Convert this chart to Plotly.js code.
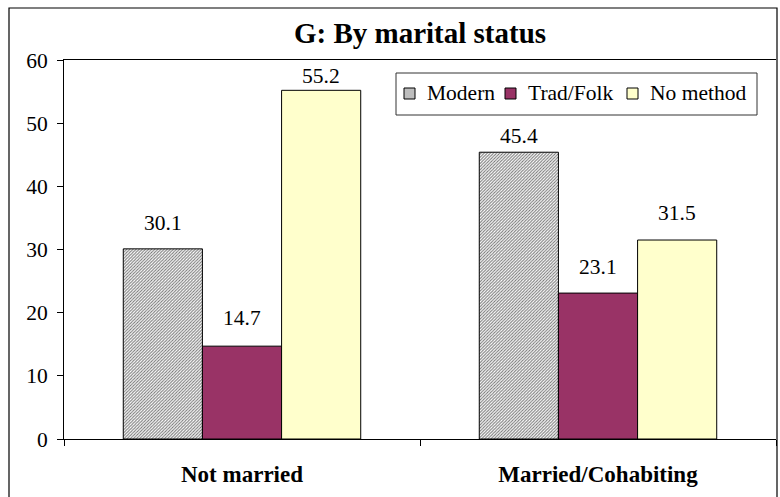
<!DOCTYPE html>
<html>
<head>
<meta charset="utf-8">
<script src="https://cdn.plot.ly/plotly-3.0.1.min.js"></script>
<style>html,body{margin:0;padding:0;background:#fff;}#chart{width:780px;height:497px;}</style>
</head>
<body>
<div id="chart"></div>
<script>
const categories = ["Not married", "Married/Cohabiting"];
const seriesNames = ["Modern", "Trad/Folk", "No method"];
const modern = [30.1, 45.4];
const tradFolk = [14.7, 23.1];
const noMethod = [55.2, 31.5];
const yTicks = [0, 10, 20, 30, 40, 50, 60];

// label styling: extra pixel lift above bar top (per series, per category)
const labelLift = [[12, 2], [14, 12], [0, 13]];

const font = "Liberation Serif, Times New Roman, serif";
const values = [modern, tradFolk, noMethod];
const fills = ["#ffffff", "#993366", "#ffffcc"];
const swatchFills = ["#bdbdbd", "#993366", "#ffffcc"];
const bargap = 0.333;
const barW = (1 - bargap) / values.length;

// plot geometry in pixels (for legend box placement)
const M = {l: 64, r: 4, t: 60, b: 58};
const PW = 780 - M.l - M.r, PH = 497 - M.t - M.b;
const px = x => (x - M.l) / PW;
const py = y => (497 - M.b - y) / PH;

const traces = values.map((v, i) => {
  const marker = {color: fills[i], line: {color: "#000", width: 1}};
  if (i === 0) {
    marker.pattern = {shape: "/", fgcolor: "#7a7a7a", bgcolor: "#ffffff", size: 2.2, solidity: 0.45};
  }
  return {type: "bar", name: seriesNames[i], x: categories, y: v, marker: marker, showlegend: false};
});

const annotations = [];
values.forEach((v, j) => {
  v.forEach((val, i) => {
    annotations.push({
      x: i + (j - (values.length - 1) / 2) * barW, y: val,
      xref: "x", yref: "y", text: val.toFixed(1), showarrow: false,
      xanchor: "center", yanchor: "bottom", yshift: labelLift[j][i],
      font: {family: font, size: 21.5, color: "#000"}
    });
  });
});

// manual legend (box, swatches, labels)
const legendLeft = 396, legendRight = 757, legendTop = 73, legendBottom = 115;
const swatchLeft = [404, 505, 627];
const shapes = [
  {type: "rect", xref: "paper", yref: "paper",
   x0: -55 / PW, x1: 713 / PW, y0: -0.2, y1: 431 / PH,
   line: {color: "#000", width: 1.2}, fillcolor: "rgba(0,0,0,0)", layer: "below"},
  {type: "rect", xref: "paper", yref: "paper",
   x0: px(legendLeft), x1: px(legendRight), y0: py(legendBottom), y1: py(legendTop),
   line: {color: "#333", width: 1}, fillcolor: "#fff", layer: "above"}
];
const midY = (legendTop + legendBottom) / 2 - 0.5;
seriesNames.forEach((name, j) => {
  shapes.push({type: "rect", xref: "paper", yref: "paper",
    x0: px(swatchLeft[j]), x1: px(swatchLeft[j] + 11), y0: py(midY + 5.5), y1: py(midY - 5.5),
    line: {color: "#000", width: 1}, fillcolor: swatchFills[j], layer: "above"});
  annotations.push({xref: "paper", yref: "paper", x: px(swatchLeft[j] + 21), y: py(midY),
    xanchor: "left", yanchor: "middle", text: name, showarrow: false,
    font: {family: font, size: 21.5, color: "#000"}});
});

const layout = {
  width: 780, height: 497,
  margin: M,
  paper_bgcolor: "#fff", plot_bgcolor: "#fff",
  barmode: "group", bargap: bargap, bargroupgap: 0,
  showlegend: false,
  title: {text: "<b>G: By marital status</b>", font: {family: font, size: 29, color: "#000"},
          x: 0.5, xref: "paper", xanchor: "center", y: 0.934, yref: "container", yanchor: "middle"},
  xaxis: {
    showline: true, linecolor: "#000", linewidth: 1, mirror: true,
    ticks: "outside", tickson: "boundaries", ticklen: 6, tickcolor: "#000",
    ticklabelstandoff: 14,
    tickfont: {family: font, size: 23, color: "#000", weight: "bold"},
    showgrid: false, zeroline: false
  },
  yaxis: {
    range: [0, 60], tickvals: yTicks, ticktext: yTicks.map(String),
    showline: true, linecolor: "#000", linewidth: 1,
    ticks: "outside", ticklen: 6, tickcolor: "#000", ticklabelstandoff: 5,
    tickfont: {family: font, size: 21.5, color: "#000"},
    showgrid: false, zeroline: false
  },
  annotations: annotations,
  shapes: shapes
};

Plotly.newPlot("chart", traces, layout, {displayModeBar: false, staticPlot: true});
</script>
</body>
</html>
